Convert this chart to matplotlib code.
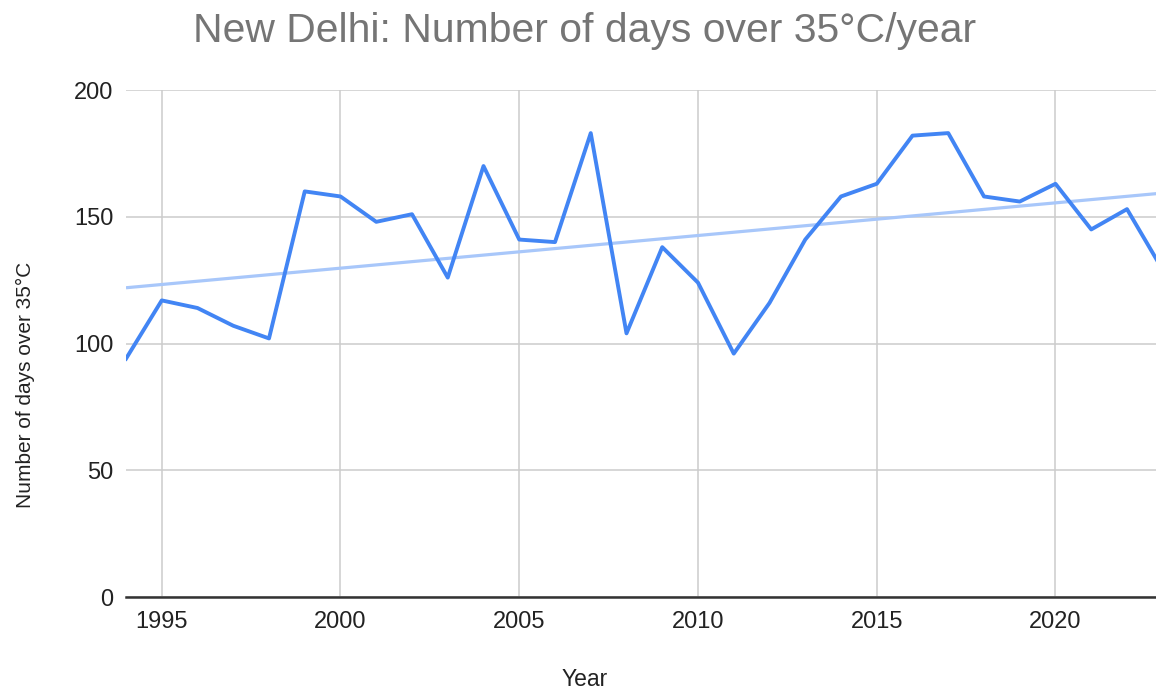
import matplotlib
matplotlib.use("Agg")
import matplotlib.pyplot as plt
import numpy as np

# Данные: число дней выше 35°C в Нью-Дели по годам
years = [1994, 1995, 1996, 1997, 1998, 1999, 2000, 2001, 2002, 2003,
         2004, 2005, 2006, 2007, 2008, 2009, 2010, 2011, 2012, 2013,
         2014, 2015, 2016, 2017, 2018, 2019, 2020, 2021, 2022, 2023]
days = [94, 117, 114, 107, 102, 160, 158, 148, 151, 126,
        170, 141, 140, 183, 104, 138, 124, 96, 116, 141,
        158, 163, 182, 183, 158, 156, 163, 145, 153, 129]
x_ticks = [1995, 2000, 2005, 2010, 2015, 2020]
y_ticks = [0, 50, 100, 150, 200]

plt.rcParams['font.family'] = ['Liberation Sans', 'DejaVu Sans']

fig = plt.figure(figsize=(11.56, 6.91), dpi=100)
ax = fig.add_axes([126 / 1156, 1 - 597 / 691, 1 - 126 / 1156, (597 - 90) / 691])

# Линейный тренд
coef = np.polyfit(years, days, 1)
xs = np.array([years[0], years[-1]])
ax.plot(xs, np.polyval(coef, xs), color='#a8c7fa', lw=2.3, zorder=2,
        solid_capstyle='butt')

ax.plot(years, days, color='#4285f4', lw=2.8, zorder=3)

ax.set_xlim(1994, 1994 + (1156 - 126) / 35.75)
ax.set_ylim(0, 200)
ax.set_xticks(x_ticks)
ax.set_yticks(y_ticks)
ax.grid(True, color='#cccccc', lw=1.1, zorder=0)
ax.set_axisbelow(True)
for s in ['top', 'right', 'left']:
    ax.spines[s].set_visible(False)
ax.spines['bottom'].set_color('#333333')
ax.spines['bottom'].set_linewidth(1.8)
ax.spines['bottom'].set_zorder(4)
ax.tick_params(length=0, labelsize=17, colors='#222222', pad=10)
ax.tick_params(axis='y', pad=9)

fig.text(0.506, 1 - 679 / 691, 'Year', ha='center', va='center',
         fontsize=16.5, color='#222222')
fig.text(25 / 1156, 1 - 385 / 691, 'Number of days over 35°C', rotation=90,
         ha='center', va='center', fontsize=15, color='#222222')
fig.text(585 / 1156, 1 - 31 / 691, 'New Delhi: Number of days over 35°C/year',
         ha='center', va='center', fontsize=29.4, color='#757575')

fig.savefig('out.png', dpi=100)
